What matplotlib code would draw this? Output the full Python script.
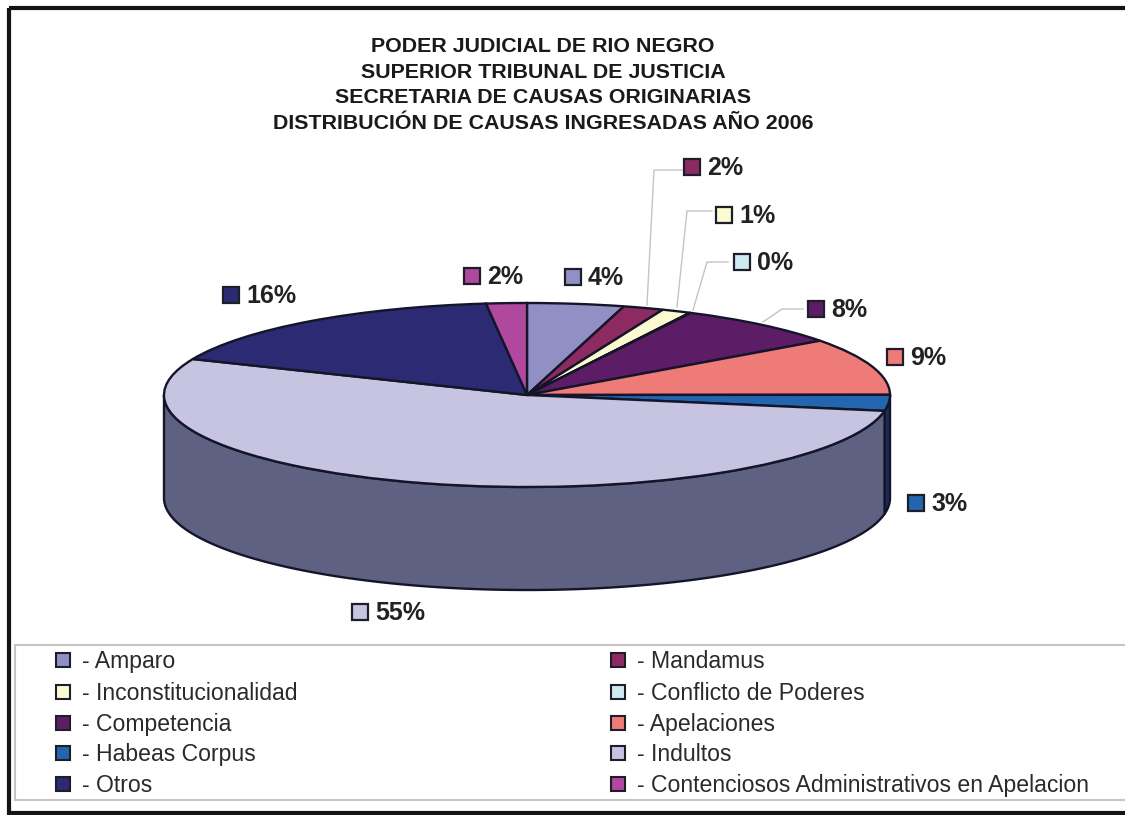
import numpy as np
import matplotlib
matplotlib.use("Agg")
import matplotlib.pyplot as plt
from matplotlib.patches import Rectangle

plt.rcParams['font.family'] = ['Liberation Sans', 'DejaVu Sans']

W, H = 1125, 815

titulo = ["PODER JUDICIAL DE RIO NEGRO",
          "SUPERIOR TRIBUNAL DE JUSTICIA",
          "SECRETARIA DE CAUSAS ORIGINARIAS",
          "DISTRIBUCIÓN DE CAUSAS INGRESADAS AÑO 2006"]

categorias = ["Amparo", "Mandamus", "Inconstitucionalidad", "Conflicto de Poderes",
              "Competencia", "Apelaciones", "Habeas Corpus", "Indultos",
              "Otros", "Contenciosos Administrativos en Apelacion"]
# share of the drawn circle, read from the slice edges
valores = [4.3, 1.8, 1.3, 0.05, 7.5, 10.0, 2.8, 53.6, 16.8, 1.8]
etiquetas = ["4%", "2%", "1%", "0%", "8%", "9%", "3%", "55%", "16%", "2%"]
colores = ["#9090c4", "#8e2a62", "#fbfad0", "#cfeaf0", "#5c1d66",
           "#ee7b78", "#2465b0", "#c7c4e2", "#2b2a72", "#b0489e"]
# side wall colours, only the front slices show
colores_lado = {6: "#1c2a55", 7: "#5f6183"}

# label square centres in pixels
pos_x = [573, 692, 724, 742, 816, 895, 916, 360, 231, 472]
pos_y = [277, 167, 215, 262, 309, 357, 503, 612, 295, 276]

# leader lines in pixels
guias = {1: ([647, 654, 682], [305, 170, 170]),
         2: ([677, 687, 712], [307, 211, 211]),
         3: ([693, 707, 728], [310, 262, 262]),
         4: ([763, 782, 803], [322, 309, 309])}

fig = plt.figure(figsize=(W / 100, H / 100), dpi=100, facecolor="white")

# overlay in picture pixels for frame, title, labels and legend
over = fig.add_axes([0, 0, 1, 1], zorder=3)
over.set_xlim(0, W)
over.set_ylim(H, 0)
over.axis("off")
over.patch.set_alpha(0)

# pie axes: x -1..1 spans the ellipse width, depth hangs below y=-1
cx, cy, rx, ry, prof = 527, 395, 363, 92, 103
ax = fig.add_axes([(cx - rx) / W, 1 - (cy + ry + prof) / H, 2 * rx / W, (2 * ry + prof) / H], zorder=2)
total = sum(valores)
inicio = np.cumsum([0] + valores[:-1]) / total * 360
fin = np.cumsum(valores) / total * 360
caida = 2 * prof / (2 * ry)

for i in range(len(valores)):
    a = max(inicio[i], 90)
    b = min(fin[i], 270)
    if b <= a:
        continue
    t = np.radians(np.linspace(a, b, 200))
    xs = np.sin(t)
    ys = np.cos(t)
    ax.fill(np.r_[xs, xs[::-1]], np.r_[ys, ys[::-1] - caida],
            facecolor=colores_lado[i], edgecolor="#15152a", linewidth=1.7, clip_on=False)

ax.pie(valores, colors=colores, startangle=90, counterclock=False, radius=1,
       wedgeprops=dict(edgecolor="#15152a", linewidth=1.7, clip_on=False))
ax.set_aspect("auto")
ax.set_xlim(-1, 1)
ax.set_ylim(-1 - caida, 1)

# frame runs off the right side of the picture
over.add_patch(Rectangle((8.5, 8), W, H - 10, fill=False, edgecolor="#141414", linewidth=3))

for linea, y in zip(titulo, [52, 78, 103, 129]):
    over.text(543, y, linea, ha="center", va="baseline", fontsize=15.4, fontweight="bold", color="#1a1a1a")

for i, j in guias.items():
    over.plot(j[0], j[1], color="#c8c2c2", linewidth=1)

for i in range(len(valores)):
    over.add_patch(Rectangle((pos_x[i] - 8, pos_y[i] - 8), 16, 16, facecolor=colores[i],
                             edgecolor="#1e1e2a", linewidth=1.6))
    over.text(pos_x[i] + 15, pos_y[i] + 8, etiquetas[i], ha="left", va="baseline",
              fontsize=18, fontweight="bold", color="#222222")

# legend runs row by row, two columns
over.add_patch(Rectangle((15, 645), W, 155, facecolor="white", edgecolor="#c9c4c4", linewidth=1.5))
filas = [660, 692, 723, 753, 784]
for i, c in enumerate(categorias):
    col = i % 2
    y = filas[i // 2]
    x = [63, 618][col]
    over.add_patch(Rectangle((x - 7, y - 7), 14, 14, facecolor=colores[i],
                             edgecolor="#1e1e2a", linewidth=1.5))
    over.text(x + 19, y + 8, "- " + c, ha="left", va="baseline", fontsize=16.6, color="#2a2a2a")

fig.savefig("out.png", dpi=100)
